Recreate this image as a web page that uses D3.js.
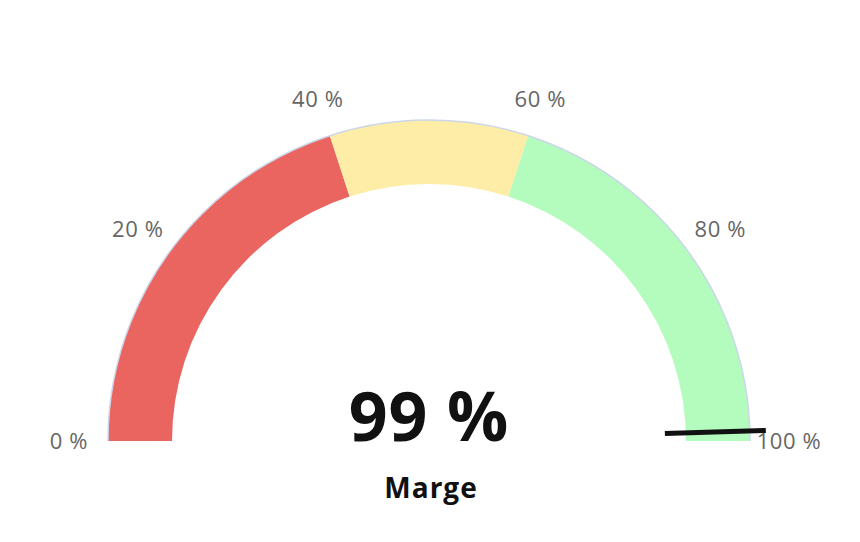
<!DOCTYPE html>
<html>
<head>
<meta charset="utf-8">
<script src="https://cdn.jsdelivr.net/npm/d3@7"></script>
<style>
  body { margin: 0; background: #fff; }
  svg { display: block; font-family: "Open Sans", sans-serif; }
</style>
</head>
<body>
<svg id="gauge" width="860" height="542"></svg>
<script>
// gauge data
var bandFrom = [0, 40, 50, 60];
var bandTo = [40, 50, 60, 100];
var bandColors = ["#ea6560", "#feeda6", "#feeda6", "#b3fcbd"];
var tickValues = [0, 20, 40, 60, 80, 100];
var gaugeValue = 99;
var gaugeTitle = "Marge";

var cx = 429, cy = 441;
var outerR = 321, innerR = 257;

var svg = d3.select("#gauge");
var g = svg.append("g").attr("transform", "translate(" + cx + "," + cy + ")");

// 0 -> left, 100 -> right
var angle = d3.scaleLinear().domain([0, 100]).range([-Math.PI / 2, Math.PI / 2]);

var arc = d3.arc().innerRadius(innerR).outerRadius(outerR);

g.selectAll("path.band")
  .data(d3.range(bandFrom.length))
  .enter().append("path")
  .attr("class", "band")
  .attr("d", function(i) {
    return arc({startAngle: angle(bandFrom[i]), endAngle: angle(bandTo[i])});
  })
  .attr("fill", function(i) { return bandColors[i]; });

// thin pane border on the outside
g.append("path")
  .attr("d", d3.arc().innerRadius(outerR).outerRadius(outerR)({startAngle: angle(0), endAngle: angle(100)}))
  .attr("fill", "none")
  .attr("stroke", "#ccd6eb")
  .attr("stroke-width", 1.5);

// tick labels
var labelR = 360;
g.selectAll("text.tick")
  .data(tickValues)
  .enter().append("text")
  .attr("class", "tick")
  .attr("x", function(d) { return labelR * Math.sin(angle(d)); })
  .attr("y", function(d) { return -labelR * Math.cos(angle(d)); })
  .attr("dy", "0.36em")
  .attr("text-anchor", "middle")
  .attr("fill", "#666")
  .style("font-size", "22px")
  .style("letter-spacing", "0.6px")
  .text(function(d) { return d + " %"; });

// needle
var a = angle(gaugeValue);
g.append("line")
  .attr("x1", 236 * Math.sin(a)).attr("y1", -236 * Math.cos(a))
  .attr("x2", 337 * Math.sin(a)).attr("y2", -337 * Math.cos(a))
  .attr("stroke", "#111")
  .attr("stroke-width", 5);

// value + title
g.append("text")
  .attr("x", 0).attr("y", 0)
  .attr("text-anchor", "middle")
  .attr("fill", "#111")
  .style("font-size", "68px")
  .style("font-weight", "700")
  .style("letter-spacing", "1px")
  .text(gaugeValue + " %");

g.append("text")
  .attr("x", 2).attr("y", 57)
  .attr("text-anchor", "middle")
  .attr("fill", "#111")
  .style("font-size", "28px")
  .style("font-weight", "700")
  .style("letter-spacing", "1px")
  .text(gaugeTitle);
</script>
</body>
</html>
